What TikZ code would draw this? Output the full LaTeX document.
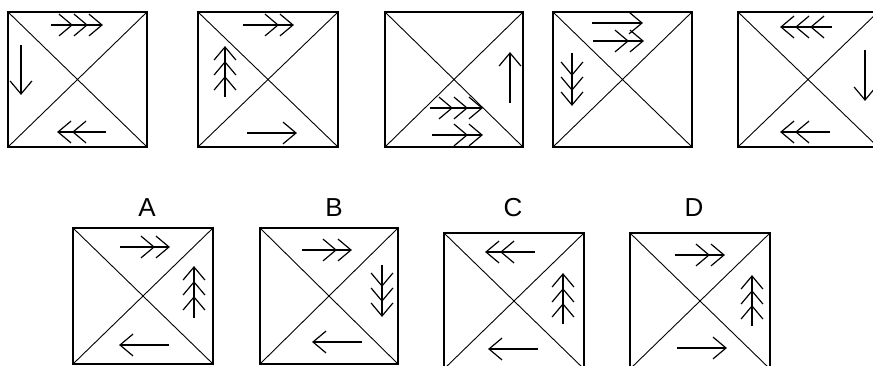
\documentclass[tikz,border=0pt]{standalone}
\usepackage{fontspec}
\setmainfont{Liberation Sans}
\usetikzlibrary{calc}

\tikzset{
  frame/.style={line width=1.8pt},
  diag/.style={line width=0.9pt},
  arrowline/.style={line width=1.2pt},
  lbl/.style={font=\fontsize{26}{28}\selectfont,anchor=base,inner sep=0pt}
}

% square split by its two diagonals
\newcommand{\tile}[4]{%
  \draw[frame] (#1,#2) rectangle (#3,#4);
  \draw[diag] (#1,#2) -- (#3,#4) (#1,#4) -- (#3,#2);}

% shaft with #3 open heads stacked at the end
\newcommand{\chevarrow}[3]{%
  \draw[arrowline] #1 coordinate (ca) -- #2 coordinate (cb);
  \foreach \k in {1,...,#3}{
    \coordinate (ct) at ($(cb)!{(\k-1)*15pt}!(ca)$);
    \draw[arrowline] ($(ct)!17pt!40:(ca)$) -- (ct) -- ($(ct)!17pt!-40:(ca)$);
  }}

\begin{document}
\begin{tikzpicture}[x=1pt,y=-1pt]
  \useasboundingbox (0,0) rectangle (873,366);
  % Top row
  \tile{8}{12}{147}{147}
  \chevarrow{(51,25)}{(102,25)}{3}
  \chevarrow{(21,45)}{(21,94)}{1}
  \chevarrow{(106,132)}{(58,132)}{2}

  \tile{198}{12}{338}{147}
  \chevarrow{(243,25)}{(293,25)}{2}
  \chevarrow{(225,97)}{(225,47)}{3}
  \chevarrow{(247,133)}{(296,133)}{1}

  \tile{385}{12}{523}{147}
  \chevarrow{(510,103)}{(510,53)}{1}
  \chevarrow{(430,108)}{(482,108)}{3}
  \chevarrow{(432,135)}{(482,135)}{2}

  \tile{553}{12}{692}{147}
  \chevarrow{(592,23)}{(642,23)}{1}
  \chevarrow{(593,41)}{(643,41)}{2}
  \chevarrow{(572,53)}{(572,105)}{3}

  \tile{738}{12}{878}{147}
  \chevarrow{(832,27)}{(781,27)}{3}
  \chevarrow{(865,50)}{(865,100)}{1}
  \chevarrow{(830,132)}{(781,132)}{2}

  % Bottom row: answer choices
  \node[lbl] (labA) at (147,217) {A};
  \tile{73}{228}{213}{364}
  \chevarrow{(120,247)}{(169,247)}{2}
  \chevarrow{(194,318)}{(194,267)}{3}
  \chevarrow{(169,345)}{(120,345)}{1}

  \node[lbl] (labB) at (334,217) {B};
  \tile{260}{228}{398}{364}
  \chevarrow{(302,250)}{(351,250)}{2}
  \chevarrow{(382,265)}{(382,316)}{3}
  \chevarrow{(362,342)}{(313,342)}{1}

  \node[lbl] (labC) at (513,217) {C};
  \tile{444}{233}{584}{369}
  \chevarrow{(535,252)}{(486,252)}{2}
  \chevarrow{(563,324)}{(563,274)}{3}
  \chevarrow{(538,349)}{(489,349)}{1}

  \node[lbl] (labD) at (694,217) {D};
  \tile{630}{233}{770}{369}
  \chevarrow{(675,255)}{(724,255)}{2}
  \chevarrow{(752,326)}{(752,276)}{3}
  \chevarrow{(677,348)}{(726,348)}{1}
\end{tikzpicture}
\end{document}
